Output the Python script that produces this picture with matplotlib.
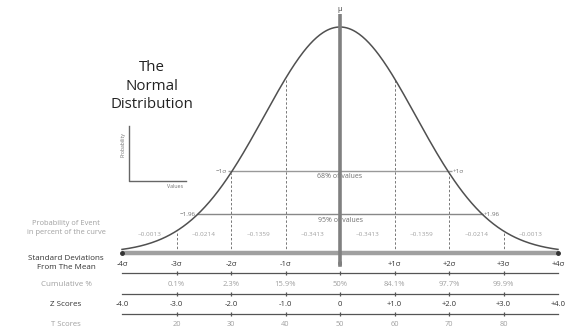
import numpy as np
import matplotlib
matplotlib.use('Agg')
import matplotlib.pyplot as plt

plt.rcParams['font.family'] = ['Open Sans', 'DejaVu Sans']

# chart content
sd_pos = [-4, -3, -2, -1, 0, 1, 2, 3, 4]
sd_labels = ['-4σ', '-3σ', '-2σ', '-1σ', '0', '+1σ', '+2σ', '+3σ', '+4σ']
cum_pos = [-3, -2, -1, 0, 1, 2, 3]
cum_labels = ['0.1%', '2.3%', '15.9%', '50%', '84.1%', '97.7%', '99.9%']
z_labels = ['-4.0', '-3.0', '-2.0', '-1.0', '0', '+1.0', '+2.0', '+3.0', '+4.0']
t_pos = [-3, -2, -1, 0, 1, 2, 3]
t_labels = ['20', '30', '40', '50', '60', '70', '80']
band_mid = [-3.5, -2.5, -1.5, -0.5, 0.5, 1.5, 2.5, 3.5]
band_labels = ['~0.0013', '~0.0214', '~0.1359', '~0.3413',
               '~0.3413', '~0.1359', '~0.0214', '~0.0013']
dashed_pos = [-3, -2, -1, 1, 2, 3]
curve_sd = 1.39   # drawn curve is wider than the tick spacing

# pixel layout helpers (reference is 565x333, mean at x=340, baseline y=253)
X0, UNIT, Y0, PEAK = 340, 54.5, 253, 226


def px(x):
    return (x - X0) / UNIT


def py(y):
    return (Y0 - y) / PEAK


def curve(x):
    return np.exp(-np.asarray(x, dtype=float) ** 2 / (2 * curve_sd ** 2))


dark = '#333333'
mid = '#707070'
light = '#a0a0a0'

fig = plt.figure(figsize=(5.65, 3.33), dpi=100)
ax = fig.add_axes([0, 0, 1, 1])
ax.set_xlim(px(0), px(565))
ax.set_ylim(py(333), py(0))
ax.axis('off')

# bell curve
xs = np.linspace(-4, 4, 400)
ax.plot(xs, curve(xs), color='#505050', lw=1.1, zorder=3)

# dashed sigma lines up to the curve
ax.vlines(dashed_pos, 0, curve(dashed_pos), colors='#777777', lw=0.7,
          linestyles=(0, (2.5, 2)), zorder=2)

# mean line
ax.plot([0, 0], [py(265), py(14)], color='#808080', lw=2.6, zorder=4)
ax.text(0, py(9), 'μ', ha='center', va='center', fontsize=5, color=dark,
        bbox=dict(boxstyle='square,pad=0.15', fc='white', ec='none'), zorder=5)

# baseline
ax.plot([-4, 4], [0, 0], color='#a0a0a0', lw=3.2, zorder=2,
        solid_capstyle='butt')
ax.plot([-4, 4], [0, 0], 'o', color='#333333', ms=2.5, zorder=3)

# 68% and 95% bands
y68, y95 = py(171), py(214)
ax.hlines(y68, -2.05, 2.05, color='#999999', lw=1.0, zorder=2)
ax.hlines(y95, -2.62, 2.62, color='#888888', lw=1.0, zorder=2)
ax.text(0, py(177), '68% of values', ha='center', va='center',
        fontsize=5, color=mid)
ax.text(0, py(220), '95% of values', ha='center', va='center',
        fontsize=5, color=mid)
ax.text(-2.07, y68, '−1σ', ha='right', va='center', fontsize=4.5, color=mid)
ax.text(2.07, y68, '+1σ', ha='left', va='center', fontsize=4.5, color=mid)
ax.text(-2.64, y95, '−1.96', ha='right', va='center', fontsize=4.5, color=mid)
ax.text(2.64, y95, '+1.96', ha='left', va='center', fontsize=4.5, color=mid)

# probability per band
for xm, lab in zip(band_mid, band_labels):
    ax.text(xm, py(234), lab, ha='center', va='center', fontsize=4.6,
            color=light)

# rows underneath
for s, lab in zip(sd_pos, sd_labels):
    ax.text(s, py(264), lab, ha='center', va='center', fontsize=5.5, color=dark)
for s, lab in zip(cum_pos, cum_labels):
    ax.text(s, py(284), lab, ha='center', va='center', fontsize=5.5, color=light)
for s, lab in zip(sd_pos, z_labels):
    ax.text(s, py(305), lab, ha='center', va='center', fontsize=5.5, color=dark)
for s, lab in zip(t_pos, t_labels):
    ax.text(s, py(324), lab, ha='center', va='center', fontsize=5.3, color=light)

for yl in [273, 294, 314]:
    ax.plot([-4, 4], [py(yl), py(yl)], color='#555555', lw=0.9, zorder=2)
    ax.plot(cum_pos, [py(yl)] * len(cum_pos), '|', color='#555555', ms=3.5,
            mew=0.9, zorder=2)

# row captions
cx = px(66)
ax.text(cx, py(228), 'Probability of Event\nin percent of the curve', ha='center',
        va='center', fontsize=5.4, color=light, linespacing=1.45)
ax.text(cx, py(263), 'Standard Deviations\nFrom The Mean', ha='center',
        va='center', fontsize=5.8, color=dark, linespacing=1.4)
ax.text(cx, py(285), 'Cumulative %', ha='center', va='center', fontsize=5.8,
        color=light)
ax.text(cx, py(305), 'Z Scores', ha='center', va='center', fontsize=5.8,
        color=dark)
ax.text(cx, py(324), 'T Scores', ha='center', va='center', fontsize=5.6,
        color=light)

# title
ax.text(px(152), py(86), 'The\nNormal\nDistribution', ha='center', va='center',
        fontsize=10.8, color='#222222', linespacing=1.3)

# little axes key
ax.plot([px(129), px(129), px(186)], [py(126), py(181), py(181)],
        color='#666666', lw=1.0)
ax.text(px(123), py(145), 'Probability', rotation=90, ha='center', va='center',
        fontsize=3.6, color=mid)
ax.text(px(175), py(187), 'Values', ha='center', va='center', fontsize=3.8,
        color=mid)

fig.savefig('out.png', dpi=100, facecolor='white')
